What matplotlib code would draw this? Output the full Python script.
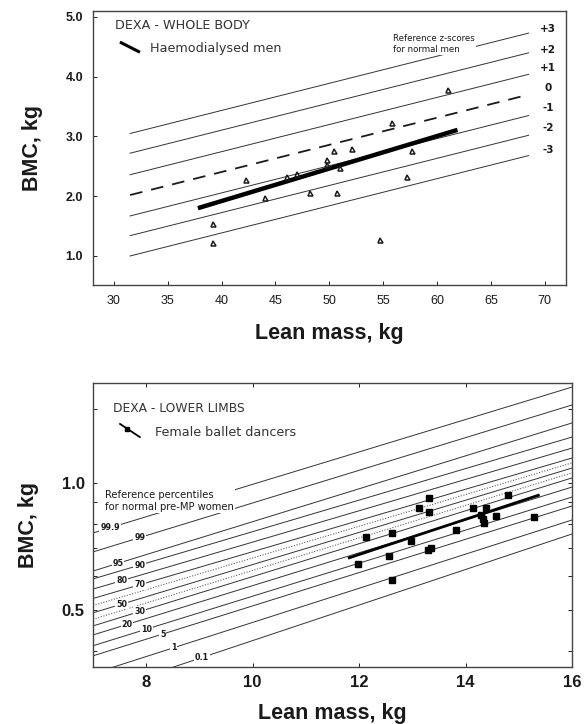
import matplotlib
matplotlib.use("Agg")
import matplotlib.pyplot as plt
import numpy as np

plt.rcParams['font.family'] = ['Liberation Sans', 'DejaVu Sans']
ANN = ['DejaVu Sans']

# ---------------- Top panel data (whole body) ----------------
z_labels = ["+3", "+2", "+1", "0", "-1", "-2", "-3"]
z_x = [31.5, 68.5]
z_start = [3.05, 2.72, 2.36, 2.02, 1.67, 1.34, 1.00]
z_end = [4.73, 4.40, 4.04, 3.70, 3.35, 3.02, 2.68]
z_label_y = [4.80, 4.45, 4.15, 3.81, 3.48, 3.15, 2.78]

hd_x = [39.2, 39.2, 42.3, 44.0, 46.1, 47.0, 48.2, 49.8, 49.8, 50.4, 50.7, 51.0,
        52.1, 54.7, 55.8, 57.2, 57.7, 61.0]
hd_y = [1.54, 1.22, 2.27, 1.97, 2.32, 2.37, 2.05, 2.61, 2.52, 2.75, 2.05, 2.47,
        2.79, 1.27, 3.23, 2.32, 2.76, 3.78]
hd_fit_x = [37.8, 61.9]
hd_fit_y = [1.80, 3.11]

top_xticks = [30, 35, 40, 45, 50, 55, 60, 65, 70]
top_yticks = [1.0, 2.0, 3.0, 4.0, 5.0]

# ---------------- Bottom panel data (lower limbs) ----------------
pct_labels = ["99.9", "99", "95", "90", "80", "70", "50", "30", "20", "10", "5", "1", "0.1"]
pct_x = [7.0, 16.0]
pct_start = [0.761, 0.686, 0.618, 0.592, 0.560, 0.532, 0.492, 0.458, 0.436, 0.411, 0.389, 0.353, 0.316]
pct_end = [1.688, 1.531, 1.388, 1.285, 1.210, 1.146, 1.085, 1.028, 0.978, 0.926, 0.882, 0.817, 0.757]
pct_label_x = [7.32, 7.88, 7.47, 7.88, 7.54, 7.88, 7.54, 7.88, 7.64, 8.01, 8.31, 8.52, 9.05]
dot_start = [0.512, 0.475]
dot_end = [1.116, 1.057]

bd_x = [12.13, 12.62, 12.98, 13.29, 13.35, 12.57, 11.98, 12.62, 13.13, 13.32, 13.32,
        13.82, 14.14, 14.29, 14.39, 14.35, 14.57, 14.79, 15.29, 14.33]
bd_y = [0.746, 0.760, 0.730, 0.694, 0.700, 0.671, 0.642, 0.589, 0.871, 0.920, 0.855,
        0.774, 0.871, 0.840, 0.871, 0.803, 0.835, 0.937, 0.829, 0.820]
bd_fit_x = [11.79, 15.39]
bd_fit_y = [0.663, 0.937]

bot_xticks = [8, 10, 12, 14, 16]
bot_yticks = [0.5, 1.0]
bot_yminor = [0.4, 0.6, 0.7, 0.8, 0.9, 1.5]

INK = "#1a1a1a"
LINE = "#333333"
GREY_TXT = "#333333"

fig = plt.figure(figsize=(5.88, 7.24), dpi=100)

# ================= TOP =================
ax1 = fig.add_axes([0.158, 0.6064, 0.805, 0.3784])
for i, (s, e) in enumerate(zip(z_start, z_end)):
    if z_labels[i] == "0":
        ax1.plot(z_x, [s, e], color=INK, lw=1.3, dashes=(7, 5), zorder=2)
    else:
        ax1.plot(z_x, [s, e], color=LINE, lw=0.7, zorder=2)
    ax1.text(70.3, z_label_y[i], z_labels[i], fontsize=7.5, fontweight='bold',
             family=ANN, color=INK, ha='center', va='center')

ax1.plot(hd_fit_x, hd_fit_y, color='black', lw=3.2, solid_capstyle='butt', zorder=3)
ax1.plot(hd_x, hd_y, linestyle='none', marker='^', ms=3.6, mfc='none',
         mec=INK, mew=1.1, zorder=4)

ax1.text(55.9, 4.55, "Reference z-scores\nfor normal men", fontsize=6.2, family=ANN,
         color=INK, ha='left', va='center', linespacing=1.25,
         bbox=dict(facecolor='white', edgecolor='none', pad=1.0), zorder=5)
ax1.text(30.1, 4.85, "DEXA - WHOLE BODY", fontsize=9.2, family=ANN, color=GREY_TXT,
         ha='left', va='center')
ax1.plot([30.56, 32.42], [4.58, 4.41], color='black', lw=2.2, solid_capstyle='butt')
ax1.text(33.35, 4.48, "Haemodialysed men", fontsize=9.2, family=ANN, color=GREY_TXT,
         ha='left', va='center')

ax1.set_xlim(28.05, 72.0)
ax1.set_ylim(0.515, 5.1)
ax1.set_xticks(top_xticks)
ax1.set_xticklabels([str(t) for t in top_xticks], fontsize=9, color=INK)
ax1.set_yticks(top_yticks)
ax1.set_yticklabels([f"{t:.1f}" for t in top_yticks], fontsize=9,
                    fontweight='bold', color=INK)
ax1.tick_params(direction='in', length=3, width=0.6, pad=7)
for sp in ax1.spines.values():
    sp.set_linewidth(1.0)
    sp.set_color("#444444")
ax1.set_xlabel("Lean mass, kg", fontsize=15.5, fontweight='bold', color=INK, labelpad=12)
ax1.set_ylabel("BMC, kg", fontsize=15.5, fontweight='bold', color=INK, labelpad=16)

# ================= BOTTOM =================
ax2 = fig.add_axes([0.158, 0.0787, 0.815, 0.3923])
ax2.set_yscale('log')
for i, (s, e) in enumerate(zip(pct_start, pct_end)):
    ax2.plot(pct_x, [s, e], color=LINE, lw=0.7, zorder=2)
    frac = (pct_label_x[i] - pct_x[0]) / (pct_x[1] - pct_x[0])
    ly = s * (e / s) ** frac
    ax2.text(pct_label_x[i], ly, pct_labels[i], fontsize=5.8, fontweight='bold',
             family=ANN, color=INK, ha='center', va='center',
             bbox=dict(facecolor='white', edgecolor='none', pad=0.6), zorder=4)
for s, e in zip(dot_start, dot_end):
    ax2.plot(pct_x, [s, e], color="#555555", lw=0.7, ls=(0, (1.2, 1.6)), zorder=2)

ax2.plot(bd_fit_x, bd_fit_y, color='black', lw=2.0, solid_capstyle='butt', zorder=3)
ax2.plot(bd_x, bd_y, linestyle='none', marker='s', ms=4.3, mfc='black', mec='black', zorder=5)

ax2.text(7.23, 0.906, "Reference percentiles\nfor normal pre-MP women", fontsize=7.2,
         family=ANN, color=INK, ha='left', va='center', linespacing=1.15,
         bbox=dict(facecolor='white', edgecolor='none', pad=0.8), zorder=5)
ax2.text(7.375, 1.498, "DEXA - LOWER LIMBS", fontsize=8.8, family=ANN, color=GREY_TXT,
         ha='left', va='center')
ax2.plot([7.51, 7.88], [1.380, 1.285], color='black', lw=1.3)
ax2.plot([7.64], [1.342], marker='s', ms=3, color='black')
ax2.text(8.16, 1.314, "Female ballet dancers", fontsize=9.2, family=ANN, color=GREY_TXT,
         ha='left', va='center')

ax2.set_xlim(7, 16)
ax2.set_ylim(0.366, 1.726)
ax2.set_xticks(bot_xticks)
ax2.set_xticklabels([str(t) for t in bot_xticks], fontsize=12, fontweight='bold', color=INK)
ax2.set_yticks(bot_yticks)
ax2.set_yticklabels([f"{t:.1f}" for t in bot_yticks], fontsize=12,
                    fontweight='bold', color=INK)
ax2.set_yticks(bot_yminor, minor=True)
ax2.set_yticklabels([], minor=True)
ax2.tick_params(which='both', direction='in', length=3, width=0.6, top=True, right=True, pad=6)
for sp in ax2.spines.values():
    sp.set_linewidth(1.0)
    sp.set_color("#444444")
ax2.set_xlabel("Lean mass, kg", fontsize=15.5, fontweight='bold', color=INK, labelpad=9)
ax2.set_ylabel("BMC, kg", fontsize=15.5, fontweight='bold', color=INK, labelpad=16)

fig.savefig("out.png", dpi=100)
